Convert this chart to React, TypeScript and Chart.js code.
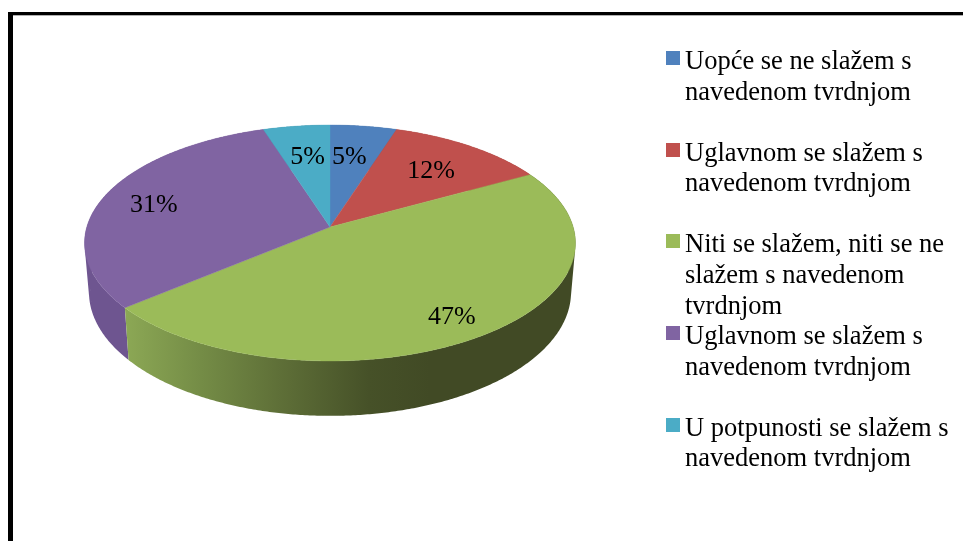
import React, { useEffect, useRef } from "react";
import { Chart, registerables } from "chart.js";

Chart.register(...registerables);

const categoryLines: string[][] = [
  ["Uopće se ne slažem s", "navedenom tvrdnjom"],
  ["Uglavnom se slažem s", "navedenom tvrdnjom"],
  ["Niti se slažem, niti se ne", "slažem s navedenom", "tvrdnjom"],
  ["Uglavnom se slažem s", "navedenom tvrdnjom"],
  ["U potpunosti se slažem s", "navedenom tvrdnjom"],
];
const shares = [5, 12, 47, 31, 5];
const sliceColors = ["#4F81BD", "#C0504D", "#9BBB59", "#8064A2", "#4BACC6"];
const wallColors = ["#3F6490", "#93403D", "#707F40", "#6E5590", "#398399"];

const FONT = '"Liberation Serif", "Times New Roman", serif';

// Perspective of the pie's top face, relative to the radius the library computes.
const scaleX = 243.2 / 227;
const scaleY = 115.8 / 227;
const tilt = 0.1356;
// How the bottom rim relates to the top rim.
const rimSx = 0.982;
const rimSy = 1.05;
const rimDrop = 48.2;
const labelRadius = 0.7;
const labelNudges: [number, number][] = [
  [-5, 3],
  [0, 2],
  [18, 17],
  [-17, 0],
  [2, 3],
];

type Pt = { x: number; y: number };

const project = (cx: number, cy: number, R: number, angle: number, r = 1): Pt => {
  const t = angle + Math.PI / 2;
  const ux = r * Math.sin(t);
  const uy = -r * Math.cos(t);
  const w = 1 - tilt * uy;
  return { x: cx + (R * scaleX * ux) / w, y: cy + (R * scaleY * uy) / w };
};

const rim = (p: Pt, cx: number, cy: number): Pt => ({
  x: cx + (p.x - cx) * rimSx,
  y: cy + rimDrop + (p.y - cy) * rimSy,
});

const pie3d = {
  id: "pie3d",
  beforeDatasetsDraw(chart: any) {
    const { ctx } = chart;
    const arcs = chart.getDatasetMeta(0).data as any[];
    const step = Math.PI / 360;

    const samples = (a0: number, a1: number) => {
      const out: number[] = [];
      for (let a = a0; a < a1; a += step) out.push(a);
      out.push(a1);
      return out;
    };

    ctx.save();

    // Side walls, far slices first so near slices paint over them.
    const order = arcs
      .map((arc, i) => ({ arc, i, depth: Math.sin((arc.startAngle + arc.endAngle) / 2) }))
      .sort((m, n) => m.depth - n.depth);
    order.forEach(({ arc, i }) => {
      const { x: cx, y: cy, outerRadius: R, startAngle, endAngle } = arc;
      let fill: any = wallColors[i];
      if (i === 2) {
        const g = ctx.createLinearGradient(125, 0, 430, 0);
        g.addColorStop(0, "#8CA855");
        g.addColorStop(0.25, "#748C46");
        g.addColorStop(0.5, "#5F7038");
        g.addColorStop(0.8, "#465128");
        g.addColorStop(1, "#414A25");
        fill = g;
      }
      ctx.fillStyle = fill;
      const as = samples(startAngle, endAngle);
      ctx.beginPath();
      for (let k = 0; k < as.length - 1; k++) {
        const a = project(cx, cy, R, as[k]);
        const b = project(cx, cy, R, as[k + 1]);
        const c = rim(b, cx, cy);
        const d = rim(a, cx, cy);
        let quad = [a, b, c, d];
        const area =
          (b.x - a.x) * (c.y - a.y) - (b.y - a.y) * (c.x - a.x) +
          (c.x - a.x) * (d.y - a.y) - (c.y - a.y) * (d.x - a.x);
        if (area < 0) quad = quad.reverse();
        ctx.moveTo(quad[0].x, quad[0].y);
        ctx.lineTo(quad[1].x, quad[1].y);
        ctx.lineTo(quad[2].x, quad[2].y);
        ctx.lineTo(quad[3].x, quad[3].y);
        ctx.closePath();
      }
      ctx.fill();
    });

    // Top face.
    arcs.forEach((arc, i) => {
      const { x: cx, y: cy, outerRadius: R, startAngle, endAngle } = arc;
      ctx.fillStyle = sliceColors[i];
      ctx.strokeStyle = sliceColors[i];
      ctx.lineWidth = 0.4;
      ctx.beginPath();
      ctx.moveTo(cx, cy);
      samples(startAngle, endAngle).forEach((a) => {
        const p = project(cx, cy, R, a);
        ctx.lineTo(p.x, p.y);
      });
      ctx.closePath();
      ctx.fill();
      ctx.stroke();
    });

    // Value labels.
    ctx.fillStyle = "#000";
    ctx.font = `26px ${FONT}`;
    ctx.textAlign = "center";
    ctx.textBaseline = "middle";
    const values = chart.data.datasets[0].data as number[];
    arcs.forEach((arc, i) => {
      const mid = (arc.startAngle + arc.endAngle) / 2;
      const p = project(arc.x, arc.y, arc.outerRadius, mid, labelRadius);
      ctx.fillText(`${values[i]}%`, p.x + labelNudges[i][0], p.y + labelNudges[i][1]);
    });

    ctx.restore();
    return false;
  },
};

export default function App() {
  const ref = useRef<HTMLCanvasElement>(null);

  useEffect(() => {
    const chart = new Chart(ref.current!, {
      type: "pie",
      data: {
        labels: categoryLines.map((l) => l.join(" ")),
        datasets: [{ data: shares, backgroundColor: sliceColors, borderWidth: 0 }],
      },
      options: {
        responsive: false,
        animation: false,
        layout: { padding: { left: 102, right: 405, top: 0, bottom: 87 } },
        plugins: { legend: { display: false }, tooltip: { enabled: false } },
        events: [],
      },
      plugins: [pie3d],
    } as any);
    return () => chart.destroy();
  }, []);

  return (
    <div
      style={{
        position: "fixed",
        left: 0,
        top: 0,
        width: 963,
        height: 541,
        background: "#fff",
        overflow: "hidden",
      }}
    >
      <canvas
        ref={ref}
        width={963}
        height={541}
        style={{ position: "absolute", left: 0, top: 0, filter: "blur(0.4px)" }}
      />
      <div
        style={{
          position: "absolute",
          left: 8,
          top: 12,
          right: 0,
          bottom: 0,
          borderLeft: "5px solid #000",
          borderTop: "3px solid #000",
          boxSizing: "border-box",
        }}
      />
      <div style={{ position: "absolute", left: 13, right: 0, top: 15, height: 1, background: "#b0b0b0" }} />
      {categoryLines.map((lines, i) => (
        <div
          key={i}
          style={{
            position: "absolute",
            left: 666,
            top: 45 + i * 91.7,
            fontFamily: FONT,
            fontSize: 26.5,
            lineHeight: "30.6px",
            color: "#000",
            whiteSpace: "nowrap",
            filter: "blur(0.3px)",
          }}
        >
          <span
            style={{
              position: "absolute",
              left: 0,
              top: 6,
              width: 14,
              height: 14,
              background: sliceColors[i],
            }}
          />
          <div style={{ marginLeft: 19 }}>
            {lines.map((line, j) => (
              <div key={j}>{line}</div>
            ))}
          </div>
        </div>
      ))}
    </div>
  );
}
